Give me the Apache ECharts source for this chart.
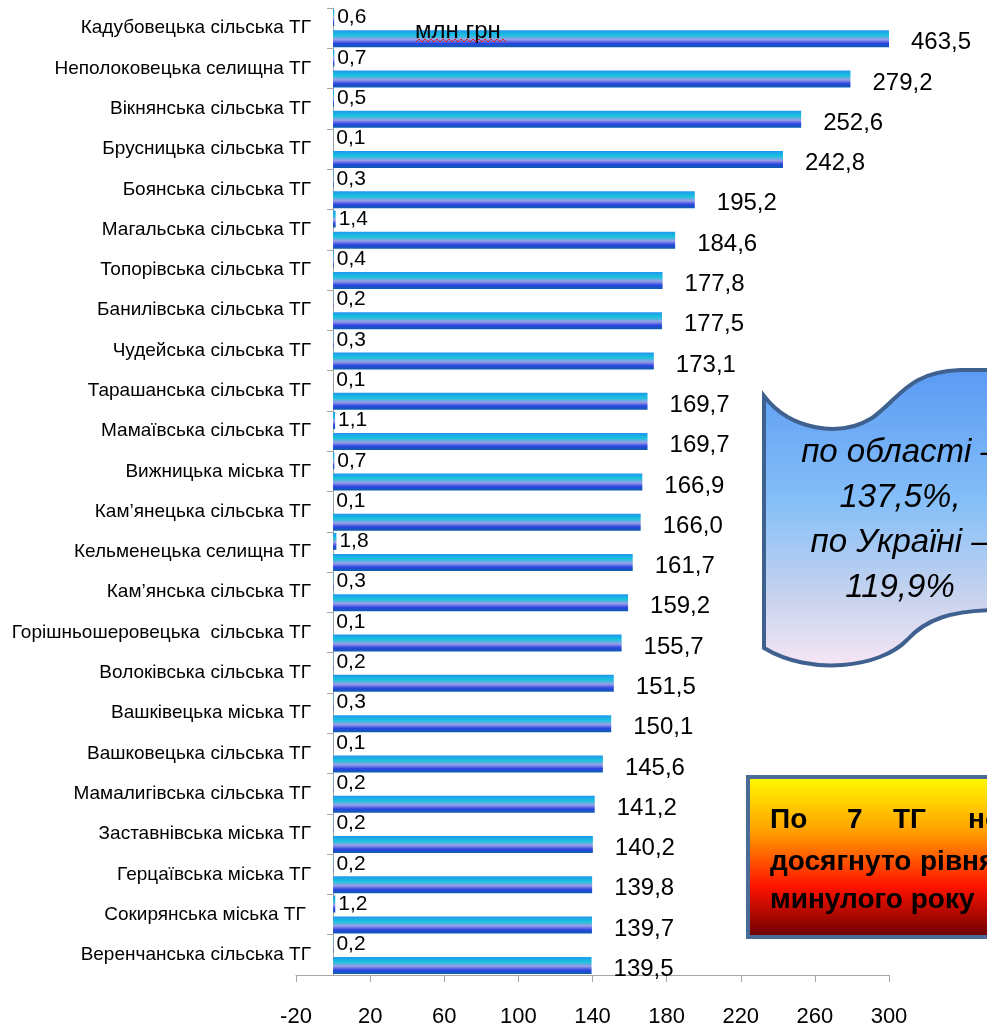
<!DOCTYPE html>
<html>
<head>
<meta charset="utf-8">
<script src="https://cdn.jsdelivr.net/npm/echarts@6/dist/echarts.min.js"></script>
<style>
  html, body { margin: 0; padding: 0; background: #fff; }
  #chart { width: 987px; height: 1030px; }
</style>
</head>
<body>
<div id="chart"></div>
<script>
// громади, зверху вниз
const categories = [
  'Кадубовецька сільська ТГ', 'Неполоковецька селищна ТГ', 'Вікнянська сільська ТГ',
  'Брусницька сільська ТГ', 'Боянська сільська ТГ', 'Магальська сільська ТГ',
  'Топорівська сільська ТГ', 'Банилівська сільська ТГ', 'Чудейська сільська ТГ',
  'Тарашанська сільська ТГ', 'Мамаївська сільська ТГ', 'Вижницька міська ТГ',
  'Кам’янецька сільська ТГ', 'Кельменецька селищна ТГ', 'Кам’янська сільська ТГ',
  'Горішньошеровецька  сільська ТГ', 'Волоківська сільська ТГ', 'Вашківецька міська ТГ',
  'Вашковецька сільська ТГ', 'Мамалигівська сільська ТГ', 'Заставнівська міська ТГ',
  'Герцаївська міська ТГ', 'Сокирянська міська ТГ ', 'Веренчанська сільська ТГ'
];
// млн грн
const smallValues = [0.6, 0.7, 0.5, 0.1, 0.3, 1.4, 0.4, 0.2, 0.3, 0.1, 1.1, 0.7,
  0.1, 1.8, 0.3, 0.1, 0.2, 0.3, 0.1, 0.2, 0.2, 0.2, 1.2, 0.2];
// %
const mainValues = [463.5, 279.2, 252.6, 242.8, 195.2, 184.6, 177.8, 177.5, 173.1, 169.7,
  169.7, 166.9, 166.0, 161.7, 159.2, 155.7, 151.5, 150.1, 145.6, 141.2, 140.2, 139.8, 139.7, 139.5];

const FONT = '"Liberation Sans", Arial, sans-serif';

// хвиляста фігура (свиток)
const WaveShape = echarts.graphic.extendPath(
  'M764,396 C790,430 840,438 872,418 C900,398 908,372 960,370 L1000,370 ' +
  'L1000,610 C950,610 925,620 907,640 C880,668 810,676 764,648 Z', {});
echarts.graphic.registerShape('waveScroll', WaveShape);

const chart = echarts.init(document.getElementById('chart'));

const barColor = new echarts.graphic.LinearGradient(0, 0, 0, 1, [
  { offset: 0, color: '#2196f0' },
  { offset: 0.3, color: '#18c4dc' },
  { offset: 0.55, color: '#9a9ee8' },
  { offset: 0.78, color: '#2a44e0' },
  { offset: 1, color: '#0b5fae' }
]);

function comma(v) { return v.toFixed(1).replace('.', ','); }

const boxText = { fontFamily: FONT, fontWeight: 'bold', fontSize: 28, fill: '#000', verticalAlign: 'middle' };

chart.setOption({
  animation: false,
  grid: { left: 296, right: 98, top: 8, bottom: 55, outerBoundsMode: 'none', containLabel: false },
  xAxis: {
    type: 'value',
    min: -20,
    max: 300,
    interval: 40,
    splitLine: { show: false },
    axisLine: { show: true, lineStyle: { color: '#a6a6a6' } },
    axisTick: { show: true, length: 7, lineStyle: { color: '#a6a6a6' } },
    axisLabel: { fontFamily: FONT, fontSize: 22, color: '#000', margin: 31 }
  },
  yAxis: {
    type: 'category',
    data: categories,
    inverse: true,
    axisLine: { show: true, onZero: true, lineStyle: { color: '#a6a6a6' } },
    axisTick: { show: true, length: 6, lineStyle: { color: '#a6a6a6' } },
    axisLabel: { fontFamily: FONT, fontSize: 19, color: '#000', margin: -15 }
  },
  series: [
    {
      type: 'bar',
      data: smallValues,
      barWidth: 17,
      barGap: '24%',
      itemStyle: { color: barColor },
      label: {
        show: true, position: 'right', distance: 3,
        fontFamily: FONT, fontSize: 21, color: '#000',
        formatter: p => comma(p.value)
      }
    },
    {
      type: 'bar',
      data: mainValues,
      barWidth: 17,
      itemStyle: { color: barColor },
      label: {
        show: true, position: 'right', distance: 22, offset: [0, 4],
        fontFamily: FONT, fontSize: 24, color: '#000',
        formatter: p => comma(p.value)
      }
    }
  ],
  graphic: [
    {
      type: 'text', x: 415, y: 31, zlevel: 1,
      style: { text: 'млн грн', fontFamily: FONT, fontSize: 24, fill: '#000', verticalAlign: 'middle' }
    },
    {
      type: 'polyline', zlevel: 1,
      shape: { points: [[416,42],[419,39],[422,42],[425,39],[428,42],[431,39],[434,42],[437,39],
        [440,42],[443,39],[446,42],[449,39],[452,42],[455,39],[458,42],[461,39],[464,42],[467,39],
        [470,42],[473,39],[476,42],[479,39],[482,42],[485,39],[488,42],[491,39],[494,42],[497,39],
        [500,42],[503,39],[506,42]] },
      style: { stroke: '#e02020', lineWidth: 1, fill: null }
    },
    {
      type: 'waveScroll', z: 100,
      style: {
        fill: new echarts.graphic.LinearGradient(0, 0, 0, 1, [
          { offset: 0, color: '#5a9af4' },
          { offset: 0.45, color: '#86bff8' },
          { offset: 0.75, color: '#c4d2ee' },
          { offset: 1, color: '#f8e6f4' }
        ]),
        stroke: '#3f6190',
        lineWidth: 4
      }
    },
    {
      type: 'text', x: 900, y: 520, z: 101,
      style: {
        text: 'по області –\n137,5%,\nпо Україні –\n119,9%',
        fontFamily: FONT, fontStyle: 'italic', fontSize: 33, lineHeight: 45,
        fill: '#000', align: 'center', verticalAlign: 'middle'
      }
    },
    {
      type: 'rect', z: 100,
      shape: { x: 748, y: 777, width: 260, height: 160 },
      style: {
        fill: new echarts.graphic.LinearGradient(0, 0, 0, 1, [
          { offset: 0, color: '#ffff00' },
          { offset: 0.35, color: '#ff9d00' },
          { offset: 0.68, color: '#ff1200' },
          { offset: 1, color: '#650000' }
        ]),
        stroke: '#4a6b96',
        lineWidth: 4
      }
    },
    { type: 'text', z: 101, x: 770, y: 820, style: Object.assign({ text: 'По' }, boxText) },
    { type: 'text', z: 101, x: 847, y: 820, style: Object.assign({ text: '7' }, boxText) },
    { type: 'text', z: 101, x: 893, y: 820, style: Object.assign({ text: 'ТГ' }, boxText) },
    { type: 'text', z: 101, x: 968, y: 820, style: Object.assign({ text: 'не' }, boxText) },
    { type: 'text', z: 101, x: 770, y: 862, style: Object.assign({ text: 'досягнуто' }, boxText) },
    { type: 'text', z: 101, x: 920, y: 862, style: Object.assign({ text: 'рівня' }, boxText) },
    { type: 'text', z: 101, x: 770, y: 900, style: Object.assign({ text: 'минулого року' }, boxText) }
  ]
});
</script>
</body>
</html>
